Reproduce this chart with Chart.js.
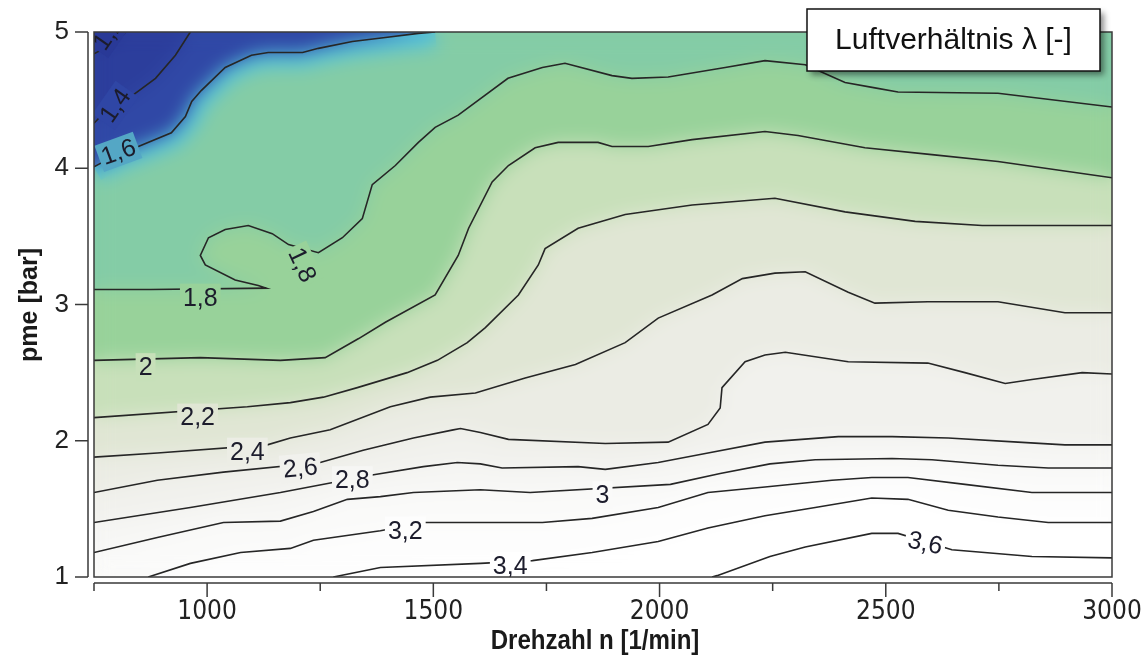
<!DOCTYPE html>
<html lang="de">
<head>
<meta charset="utf-8">
<title>Luftverhältnis λ</title>
<script src="https://cdn.jsdelivr.net/npm/chart.js@4.4.1/dist/chart.umd.min.js"></script>
<style>
  html, body { margin: 0; padding: 0; background: #fff; }
  #wrap { width: 1145px; height: 664px; }
</style>
</head>
<body>
<div id="wrap"><canvas id="lambdaMap" width="1145" height="664"></canvas></div>
<script>
/* Kennfeld Luftverhältnis λ über Drehzahl und pme */

const xMin = 750, xMax = 3000;
const yMin = 1, yMax = 5;
const xTicks = [1000, 1500, 2000, 2500, 3000];
const xMinorTicks = [750, 1250, 1750, 2250, 2750];
const yTicks = [1, 2, 3, 4, 5];

/* Isolinien: [Drehzahl, pme] */
const contourLevels = [1.2, 1.4, 1.6, 1.8, 2.0, 2.2, 2.4, 2.6, 2.8, 3.0, 3.2, 3.4, 3.6];

const iso12 = [[750, 4.84], [800, 4.93], [820, 5]];
const iso14 = [[750, 4.33], [770, 4.40], [833, 4.53], [886, 4.66], [930, 4.83], [959, 4.98], [963, 5]];
const iso16 = [[750, 4.01], [800, 4.10], [848, 4.16], [921, 4.26], [952, 4.38], [966, 4.49], [987, 4.57],
  [1040, 4.74], [1098, 4.83], [1135, 4.85], [1211, 4.85], [1246, 4.88], [1321, 4.93], [1394, 4.96],
  [1467, 4.99], [1504, 5]];
const iso18 = [[750, 3.11], [875, 3.11], [1131, 3.12], [1113, 3.14], [1062, 3.18], [996, 3.29], [985, 3.36],
  [1003, 3.49], [1040, 3.55], [1091, 3.58], [1144, 3.52], [1180, 3.44], [1246, 3.38], [1299, 3.49],
  [1343, 3.63], [1365, 3.88], [1416, 4.02], [1467, 4.19], [1504, 4.30], [1555, 4.39], [1665, 4.66],
  [1741, 4.74], [1791, 4.77], [1895, 4.68], [1939, 4.66], [2019, 4.67], [2145, 4.74], [2233, 4.79],
  [2322, 4.76], [2410, 4.63], [2476, 4.59], [2527, 4.56], [2748, 4.55], [3000, 4.45]];
const iso20 = [[750, 2.59], [985, 2.61], [1162, 2.59], [1261, 2.61], [1335, 2.75], [1394, 2.87], [1504, 3.07],
  [1555, 3.36], [1578, 3.56], [1630, 3.90], [1666, 4.02], [1725, 4.15], [1776, 4.19], [1864, 4.19],
  [1895, 4.16], [1975, 4.16], [2072, 4.21], [2233, 4.27], [2306, 4.24], [2454, 4.15], [2602, 4.10],
  [2748, 4.05], [3000, 3.93]];
const iso22 = [[750, 2.17], [1089, 2.25], [1184, 2.28], [1257, 2.32], [1332, 2.39], [1442, 2.50], [1509, 2.59],
  [1575, 2.72], [1615, 2.83], [1688, 3.07], [1732, 3.29], [1747, 3.41], [1820, 3.56], [1924, 3.66],
  [2072, 3.73], [2255, 3.78], [2410, 3.68], [2565, 3.61], [2713, 3.58], [3000, 3.58]];
const iso24 = [[750, 1.88], [890, 1.91], [1133, 1.97], [1184, 2.02], [1272, 2.08], [1405, 2.25], [1493, 2.32],
  [1593, 2.35], [1703, 2.46], [1814, 2.56], [1924, 2.72], [1997, 2.90], [2116, 3.07], [2183, 3.19],
  [2255, 3.23], [2322, 3.24], [2417, 3.09], [2476, 3.01], [2593, 3.02], [2748, 3.02], [2896, 2.94],
  [3000, 2.94]];
const iso26 = [[750, 1.62], [890, 1.71], [1036, 1.77], [1250, 1.84], [1345, 1.93], [1456, 2.02], [1544, 2.08],
  [1560, 2.09], [1604, 2.06], [1666, 2.01], [1880, 1.98], [2019, 1.99], [2107, 2.12], [2134, 2.24],
  [2138, 2.39], [2189, 2.58], [2233, 2.63], [2278, 2.65], [2417, 2.58], [2593, 2.57], [2675, 2.50],
  [2764, 2.42], [2823, 2.45], [2934, 2.50], [3000, 2.49]];
const iso28 = [[750, 1.40], [963, 1.51], [1162, 1.62], [1368, 1.75], [1478, 1.81], [1553, 1.84], [1604, 1.83],
  [1652, 1.80], [1820, 1.81], [1880, 1.79], [1997, 1.84], [2107, 1.91], [2233, 1.99], [2395, 2.03],
  [2514, 2.03], [2638, 2.02], [2792, 1.99], [2896, 1.97], [3000, 1.97]];
const iso30 = [[750, 1.18], [890, 1.29], [1036, 1.40], [1162, 1.41], [1235, 1.48], [1310, 1.57], [1383, 1.59],
  [1456, 1.62], [1604, 1.64], [1714, 1.62], [2024, 1.68], [2134, 1.76], [2244, 1.83], [2344, 1.86],
  [2514, 1.87], [2602, 1.86], [2748, 1.82], [2859, 1.80], [3000, 1.80]];
const iso32 = [[870, 1], [963, 1.10], [1074, 1.18], [1184, 1.21], [1235, 1.27], [1383, 1.34], [1478, 1.40],
  [1604, 1.40], [1741, 1.40], [1851, 1.43], [1997, 1.51], [2107, 1.62], [2233, 1.66], [2381, 1.71],
  [2469, 1.73], [2549, 1.73], [2675, 1.68], [2823, 1.62], [3000, 1.62]];
const iso34 = [[1279, 1], [1383, 1.07], [1604, 1.10], [1719, 1.12], [1851, 1.18], [1997, 1.26], [2107, 1.36],
  [2233, 1.45], [2344, 1.51], [2469, 1.58], [2549, 1.57], [2638, 1.49], [2748, 1.44], [2859, 1.40],
  [3000, 1.40]];
const iso36 = [[2116, 1], [2127, 1.01], [2244, 1.15], [2322, 1.22], [2469, 1.32], [2527, 1.32], [2646, 1.20],
  [2823, 1.15], [3000, 1.14]];

const isoLines = [iso12, iso14, iso16, iso18, iso20, iso22, iso24, iso26, iso28, iso30, iso32, iso34, iso36];

/* Beschriftungen der Isolinien */
const labelTexts = ['1,2', '1,4', '1,6', '1,8', '1,8', '2', '2,2', '2,4', '2,6', '2,8', '3', '3,2', '3,4', '3,6'];
const labelX = [782, 797, 804, 985, 1210, 864, 979, 1089, 1206, 1321, 1874, 1438, 1670, 2587];
const labelY = [4.99, 4.46, 4.12, 3.05, 3.29, 2.54, 2.17, 1.92, 1.80, 1.71, 1.60, 1.34, 1.08, 1.25];
const labelAngle = [-55, -55, -20, 0, 65, 0, 0, 0, -5, 0, 0, 0, 0, 12];

/* Flächenfarbe unterhalb jeder Stufe (Band zwischen Stufe-0,2 und Stufe) */
const bandColors = {
  1.2: 'rgb(40,55,148)', 1.4: 'rgb(44,62,156)', 1.6: 'rgb(48,72,166)', 1.8: 'rgb(132,204,166)',
  2.0: 'rgb(152,210,154)', 2.2: 'rgb(200,224,186)', 2.4: 'rgb(224,230,212)', 2.6: 'rgb(235,236,228)',
  2.8: 'rgb(241,241,237)', 3.0: 'rgb(246,246,244)', 3.2: 'rgb(250,250,249)', 3.4: 'rgb(253,253,253)',
  3.6: 'rgb(255,255,255)'
};

const labelFont = '25px "Liberation Sans", Arial, sans-serif';

function lowerSidePath(ctx, pts, sx, sy) {
  const first = pts[0], last = pts[pts.length - 1];
  const fromBottom = first[1] === yMin && first[0] > xMin;
  ctx.beginPath();
  if (fromBottom) ctx.moveTo(sx(xMin), sy(yMin));
  pts.forEach((p, i) => {
    if (i === 0 && !fromBottom) ctx.moveTo(sx(p[0]), sy(p[1]));
    else ctx.lineTo(sx(p[0]), sy(p[1]));
  });
  if (last[0] === xMax) ctx.lineTo(sx(xMax), sy(yMax));
  ctx.lineTo(sx(xMin), sy(yMax));
  ctx.closePath();
}

const mapBackground = {
  id: 'mapBackground',
  beforeDatasetsDraw(chart) {
    const { ctx, chartArea: ca, scales } = chart;
    const w = Math.ceil(ca.right - ca.left), h = Math.ceil(ca.bottom - ca.top);
    const off = document.createElement('canvas');
    off.width = w; off.height = h;
    const o = off.getContext('2d');
    const sx = v => scales.x.getPixelForValue(v) - ca.left;
    const sy = v => scales.y.getPixelForValue(v) - ca.top;

    o.fillStyle = '#ffffff';
    o.fillRect(0, 0, w, h);
    for (let i = contourLevels.length - 1; i >= 0; i--) {
      lowerSidePath(o, isoLines[i], sx, sy);
      o.fillStyle = bandColors[contourLevels[i]];
      o.fill();
      if (contourLevels[i] === 1.8) {
        // heller Cyan-Saum oberhalb der 1,6-Linie
        o.beginPath();
        iso16.forEach((p, k) => k ? o.lineTo(sx(p[0]), sy(p[1])) : o.moveTo(sx(p[0]), sy(p[1])));
        o.strokeStyle = 'rgb(84,194,218)';
        o.lineWidth = 30;
        o.stroke();
      }
    }

    ctx.save();
    ctx.beginPath();
    ctx.rect(ca.left, ca.top, w, h);
    ctx.clip();
    ctx.drawImage(off, ca.left, ca.top);
    ctx.filter = 'blur(9px)';
    ctx.drawImage(off, ca.left, ca.top);
    ctx.filter = 'none';
    ctx.restore();

    // Hintergrundfarbe knapp unter jeder Beschriftung merken
    chart.$labelBg = labelTexts.map((t, i) => {
      const px = Math.round(scales.x.getPixelForValue(labelX[i]));
      const py = Math.round(scales.y.getPixelForValue(labelY[i])) + 9;
      const d = ctx.getImageData(Math.min(Math.max(px, ca.left + 1), ca.right - 2),
                                 Math.min(Math.max(py, ca.top + 1), ca.bottom - 2), 1, 1).data;
      return `rgb(${d[0]},${d[1]},${d[2]})`;
    });
  }
};

const contourLabels = {
  id: 'contourLabels',
  afterDatasetsDraw(chart) {
    const { ctx, chartArea: ca, scales } = chart;
    ctx.save();
    ctx.beginPath();
    ctx.rect(ca.left, ca.top, ca.right - ca.left, ca.bottom - ca.top);
    ctx.clip();
    ctx.font = labelFont;
    ctx.textAlign = 'center';
    ctx.textBaseline = 'middle';
    labelTexts.forEach((t, i) => {
      const px = scales.x.getPixelForValue(labelX[i]);
      const py = scales.y.getPixelForValue(labelY[i]);
      const tw = ctx.measureText(t).width;
      ctx.save();
      ctx.translate(px, py);
      ctx.rotate(labelAngle[i] * Math.PI / 180);
      ctx.fillStyle = chart.$labelBg[i];
      ctx.fillRect(-tw / 2 - 3, -14, tw + 6, 28);
      ctx.fillStyle = '#1c1c2c';
      ctx.fillText(t, 0, 1);
      ctx.restore();
    });
    ctx.restore();
  }
};

const frameAndAxes = {
  id: 'frameAndAxes',
  afterDraw(chart) {
    const { ctx, chartArea: ca, scales } = chart;
    ctx.save();
    ctx.strokeStyle = '#3a3a3a';
    ctx.lineWidth = 1.5;
    ctx.strokeRect(ca.left, ca.top, ca.right - ca.left, ca.bottom - ca.top);

    // y-Achse, nach links versetzt
    const ax = ca.left - 6;
    ctx.beginPath();
    ctx.moveTo(ax, scales.y.getPixelForValue(yMax));
    ctx.lineTo(ax, scales.y.getPixelForValue(yMin));
    yTicks.forEach(v => {
      const py = scales.y.getPixelForValue(v);
      ctx.moveTo(ax, py);
      ctx.lineTo(ax - 13, py);
    });
    // x-Achse, nach unten versetzt
    const ay = ca.bottom + 6;
    ctx.moveTo(scales.x.getPixelForValue(xMin), ay);
    ctx.lineTo(scales.x.getPixelForValue(xMax), ay);
    xTicks.forEach(v => {
      const px = scales.x.getPixelForValue(v);
      ctx.moveTo(px, ay);
      ctx.lineTo(px, ay + 14);
    });
    xMinorTicks.forEach(v => {
      const px = scales.x.getPixelForValue(v);
      ctx.moveTo(px, ay);
      ctx.lineTo(px, ay + 8);
    });
    ctx.stroke();

    // Achsentitel
    ctx.fillStyle = '#1a1a1a';
    ctx.textAlign = 'center';
    ctx.textBaseline = 'middle';
    ctx.save();
    ctx.translate((ca.left + ca.right) / 2 - 8, 641);
    ctx.scale(0.86, 1);
    ctx.font = 'bold 28px "Liberation Sans", Arial, sans-serif';
    ctx.fillText('Drehzahl n [1/min]', 0, 0);
    ctx.restore();
    ctx.save();
    ctx.translate(30, 305);
    ctx.rotate(-Math.PI / 2);
    ctx.font = 'bold 25px "Liberation Sans", Arial, sans-serif';
    ctx.fillText('pme [bar]', 0, 0);
    ctx.restore();

    // Legendenkasten
    const bx = 807, by = 9, bw = 293, bh = 62;
    ctx.save();
    ctx.shadowColor = 'rgba(0,0,0,0.45)';
    ctx.shadowBlur = 6;
    ctx.shadowOffsetX = 4;
    ctx.shadowOffsetY = 4;
    ctx.fillStyle = '#ffffff';
    ctx.fillRect(bx, by, bw, bh);
    ctx.restore();
    ctx.strokeStyle = '#111';
    ctx.lineWidth = 1.5;
    ctx.strokeRect(bx, by, bw, bh);
    ctx.fillStyle = '#111';
    ctx.font = '30px "Liberation Sans", Arial, sans-serif';
    ctx.fillText('Luftverhältnis λ [-]', bx + bw / 2, by + bh / 2 + 1);
    ctx.restore();
  }
};

new Chart(document.getElementById('lambdaMap'), {
  type: 'scatter',
  data: {
    datasets: isoLines.map((pts, i) => ({
      label: 'λ = ' + contourLevels[i],
      data: pts.map(p => ({ x: p[0], y: p[1] })),
      showLine: true,
      borderColor: '#262626',
      borderWidth: 1.6,
      pointRadius: 0,
      tension: 0,
      fill: false
    }))
  },
  options: {
    responsive: false,
    animation: false,
    devicePixelRatio: 1,
    layout: { padding: { top: 32, right: 33, left: 0, bottom: 0 } },
    plugins: { legend: { display: false }, tooltip: { enabled: false } },
    scales: {
      x: {
        type: 'linear', min: xMin, max: xMax,
        grid: { display: false, drawTicks: false },
        border: { display: false },
        afterFit: s => { s.height = 87; s.paddingLeft = 0; s.paddingRight = 0; },
        afterBuildTicks: s => { s.ticks = xTicks.map(v => ({ value: v })); },
        ticks: {
          padding: 20, color: '#222', maxRotation: 0, autoSkip: false,
          callback: v => String(v),
          font: { family: '"DejaVu Sans Condensed", "Liberation Sans", sans-serif', size: 26 }
        }
      },
      y: {
        type: 'linear', min: yMin, max: yMax,
        grid: { display: false, drawTicks: false },
        border: { display: false },
        afterFit: s => { s.width = 94; s.paddingTop = 0; s.paddingBottom = 0; },
        afterBuildTicks: s => { s.ticks = yTicks.map(v => ({ value: v })); },
        ticks: {
          padding: 25, color: '#222',
          callback: v => String(v),
          font: { family: '"Liberation Sans", Arial, sans-serif', size: 26 }
        }
      }
    }
  },
  plugins: [mapBackground, contourLabels, frameAndAxes]
});
</script>
</body>
</html>
